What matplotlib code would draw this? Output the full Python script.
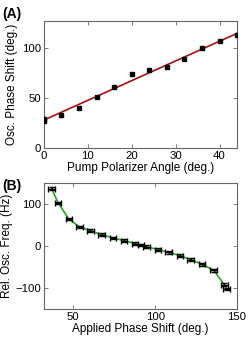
import numpy as np
import matplotlib
matplotlib.use("Agg")
import matplotlib.pyplot as plt

plt.rcParams['font.family'] = ['Liberation Sans', 'DejaVu Sans']

# Panel A data
angle = [0, 0, 4, 8, 12, 16, 20, 24, 28, 32, 36, 40, 44]
phase_shift = [27.5, 29.5, 33.3, 39.6, 51.2, 61.0, 74.3, 77.6, 81.2, 89.1, 100.0, 106.6, 112.5]
phase_err = [1.5] * len(angle)

# Panel B data
applied_shift = [36.7, 40.7, 47.2, 53.8, 60.4, 67.2, 74.3, 80.9, 87.7, 91.3, 94.6,
                 101.6, 108.2, 115.0, 121.7, 128.7, 135.7, 142.2, 143.6]
rel_freq = [136.4, 102.4, 64.3, 45.2, 36.4, 26.9, 19.0, 12.6, 5.5, 2.4, -1.7,
            -8.8, -15.2, -23.1, -32.6, -43.8, -58.1, -92.1, -102.4]
shift_err = [2.0] * len(applied_shift)
freq_err = [3.0] * len(applied_shift)

fig = plt.figure(figsize=(2.48, 3.38), dpi=100)
axA = fig.add_axes([0.177, 0.562, 0.779, 0.376])
axB = fig.add_axes([0.177, 0.086, 0.779, 0.373])

spine_col = '#666666'
for ax in (axA, axB):
    for s in ax.spines.values():
        s.set_color(spine_col)
        s.set_linewidth(0.8)
    ax.tick_params(direction='in', length=3, width=0.6, color=spine_col,
                   top=True, right=True, labelsize=8.2, pad=2)

# Panel A
coef = np.polyfit(angle, phase_shift, 1)
xf = np.array([0, 44])
axA.plot(xf, np.polyval(coef, xf), color='#aa1111', lw=1.2, zorder=2)
axA.errorbar(angle, phase_shift, yerr=phase_err, fmt='s', ms=2.2, color='black',
             ecolor='black', elinewidth=0.8, capsize=0, zorder=3)
axA.set_xlim(0, 44)
axA.set_ylim(0, 127)
axA.set_xticks([0, 10, 20, 30, 40])
axA.set_yticks([0, 50, 100])
axA.set_xlabel('Pump Polarizer Angle (deg.)', fontsize=8.5, labelpad=1)
axA.set_ylabel('Osc. Phase Shift (deg.)', fontsize=8.5, labelpad=3)

# Panel B
axB.plot(applied_shift, rel_freq, color='#22aa22', lw=1.2, zorder=2)
axB.errorbar(applied_shift, rel_freq, xerr=shift_err, yerr=freq_err, fmt='none',
             ecolor='black', elinewidth=1.0, capsize=2.5, capthick=1.0, zorder=3)
axB.set_xlim(32, 150)
axB.set_ylim(-150, 150)
axB.set_xticks([50, 100, 150])
axB.set_yticks([-100, 0, 100])
axB.set_xlabel('Applied Phase Shift (deg.)', fontsize=8.5, labelpad=1)
axB.set_ylabel('Rel. Osc. Freq. (Hz)', fontsize=8.5, labelpad=2)

fig.text(0.008, 0.978, '(A)', fontsize=10, fontweight='bold', va='top', ha='left')
fig.text(0.008, 0.470, '(B)', fontsize=10, fontweight='bold', va='top', ha='left')

fig.savefig('out.png', dpi=100)
